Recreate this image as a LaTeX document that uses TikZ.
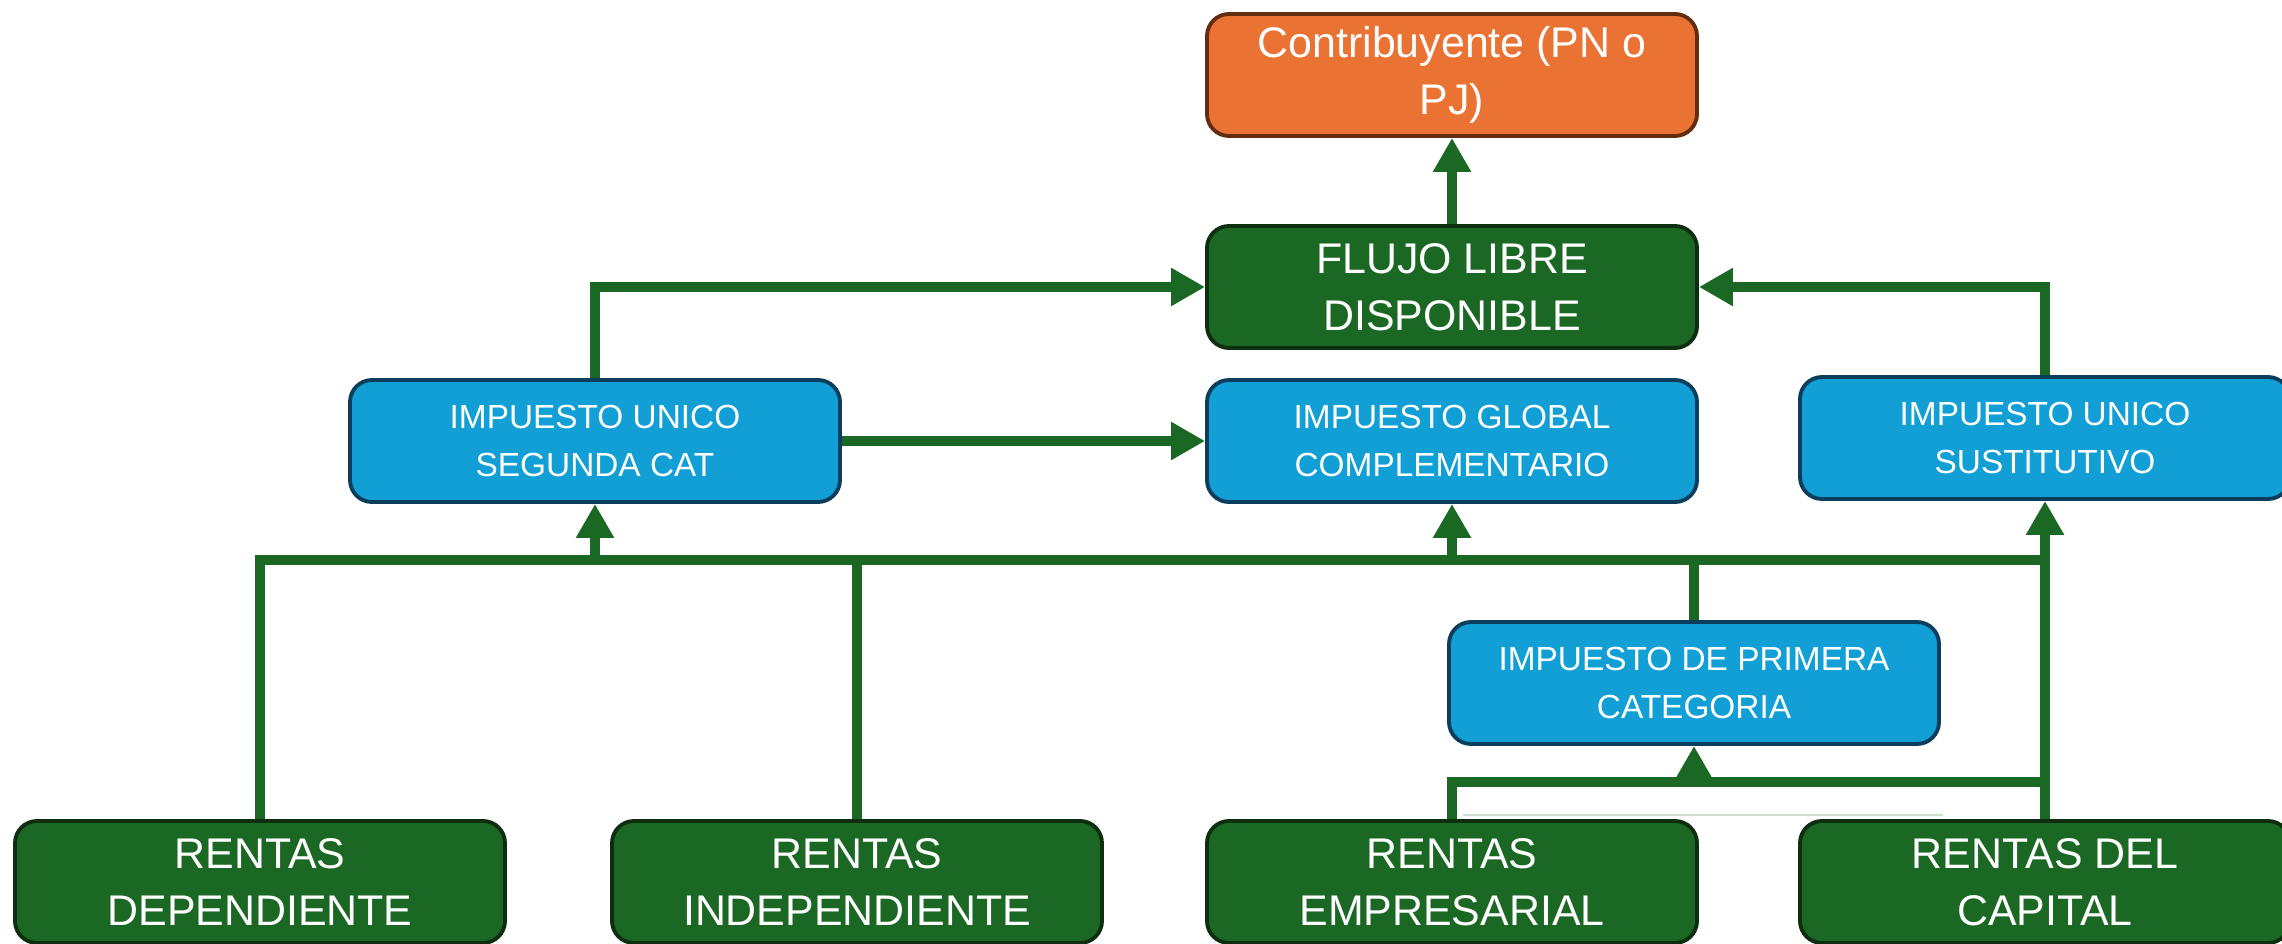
\documentclass[tikz,border=0pt]{standalone}
\usepackage{fontspec}
\setmainfont{Liberation Sans}
\usetikzlibrary{arrows.meta}
\definecolor{naranja}{RGB}{234,115,52}
\definecolor{cafe}{RGB}{100,45,15}
\definecolor{verde}{RGB}{27,104,36}
\definecolor{verdeosc}{RGB}{14,46,16}
\definecolor{celeste}{RGB}{17,159,214}
\definecolor{azulosc}{RGB}{10,62,92}

\begin{document}
\begin{tikzpicture}[
  caja/.style={rectangle, rounded corners=0.22cm, minimum width=4.9cm, minimum height=1.22cm, line width=1.1pt, text=white, align=center, inner sep=0pt},
  grande/.style={caja, font=\fontsize{12.2}{16.2}\selectfont},
  chica/.style={caja, fill=celeste, draw=azulosc, font=\fontsize{9.5}{13.7}\selectfont},
  renta/.style={grande, fill=verde, draw=verdeosc},
  wire/.style={draw=verde, line width=0.1cm},
  conn/.style={wire, -{Triangle[width=0.36cm,length=0.34cm]}}]
  \useasboundingbox (0,0) rectangle (22.82,9.43);
  \def\yb{3.83}
  \def\yc{1.615}
  \coordinate (hl) at (0,\yb);
  \coordinate (hb) at (0,\yc);

  \node[grande, fill=naranja, draw=cafe] (contrib) at (14.52,8.68) {Contribuyente (PN o\\PJ)};
  \node[renta] (flujo) at (14.52,6.56) {FLUJO LIBRE\\DISPONIBLE};
  \node[chica] (segunda) at (5.95,5.02) {IMPUESTO UNICO\\SEGUNDA CAT};
  \node[chica] (global) at (14.52,5.02) {IMPUESTO GLOBAL\\COMPLEMENTARIO};
  \node[chica] (sust) at (20.45,5.05) {IMPUESTO UNICO\\SUSTITUTIVO};
  \node[chica] (primera) at (16.94,2.60) {IMPUESTO DE PRIMERA\\CATEGORIA};
  \node[renta] (dep) at (2.6,0.61) {RENTAS\\DEPENDIENTE};
  \node[renta] (indep) at (8.57,0.61) {RENTAS\\INDEPENDIENTE};
  \node[renta] (emp) at (14.52,0.61) {RENTAS\\EMPRESARIAL};
  \node[renta] (capital) at (20.45,0.61) {RENTAS DEL\\CAPITAL};

  \draw[green!40!black!20, line width=0.8pt] (14.63,1.28) -- (19.43,1.28);

  \draw[conn] (flujo) -- (contrib);
  \draw[conn] (segunda.north) |- (flujo.west);
  \draw[conn] (sust.north) |- (flujo.east);
  \draw[conn] (segunda) -- (global);

  \draw[wire] (dep.north) |- (indep.north |- hl);
  \draw[conn] (segunda.south |- hl) -- (segunda.south);
  \draw[conn] (indep.north) |- (global.south |- hl) -- (global.south);
  \draw[wire] (primera.north) |- (global.south |- hl);
  \draw[wire] (primera.north) |- (sust.south |- hl);
  \draw[conn] (capital.north) -- (sust.south);

  \draw[wire] (emp.north) |- (capital.north |- hb);
  \draw[conn] (primera.south |- hb) -- (primera.south);
\end{tikzpicture}
\end{document}
